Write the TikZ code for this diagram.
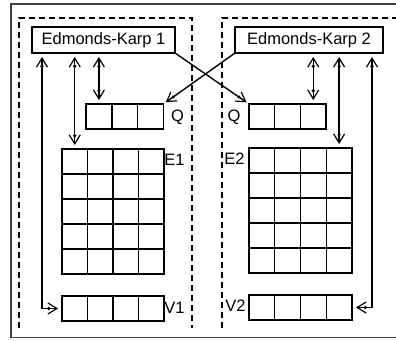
\documentclass[tikz,border=0pt]{standalone}
\usepackage{fontspec}
\setmainfont{Liberation Sans}
\usetikzlibrary{arrows.meta}
\begin{document}
\begin{tikzpicture}[x=1pt,y=-1pt, line width=1.4pt,
  cell/.style={draw, minimum width=25.5pt, minimum height=25pt, inner sep=0pt, outer sep=0pt},
  ekbox/.style={draw, minimum height=26pt, inner sep=0pt, outer sep=0pt, font=\fontsize{16.5}{18}\selectfont},
  lbl/.style={inner sep=0pt, font=\fontsize{16.5}{18}\selectfont},
  barb/.tip={Circle[length=3pt,sep=-3pt] Straight Barb[length=9pt,width=11pt,line width=1.2pt]},
  link/.style={{barb}-{barb}, shorten <=4pt, shorten >=4pt},
  oneway/.style={-{barb}, shorten >=3pt},
  frame/.style={line width=1.6pt, draw=black!75},
  zone/.style={dash pattern=on 6pt off 4pt}
]
\useasboundingbox (0,0) rectangle (396,340);
\begin{scope}
\clip (0,0) rectangle (396,340);
\draw[frame] (11,4) rectangle (430,337.5);
\draw[zone] (19,328) -- (19,18) -- (192,18) -- (192,328);
\draw[zone] (222,328) -- (222,18) -- (430,18);
\end{scope}
\node[ekbox, minimum width=143pt, anchor=north west] (ek1) at (32,27) {Edmonds-Karp 1};
\node[ekbox, minimum width=148pt, anchor=north west] (ek2) at (235,27) {Edmonds-Karp 2};
\foreach \i in {1,2,3} {
  \node[cell, minimum width=25.8pt, anchor=north west] (qa\i) at ({86+(\i-1)*25.8},104) {};
  \node[cell, minimum width=25.7pt, anchor=north west] (qb\i) at ({249+(\i-1)*25.7},104) {};
}
\foreach \c in {1,2,3,4} {
  \node[cell, anchor=north west] (va\c) at ({62+(\c-1)*25.5},296) {};
  \node[cell, minimum width=25.75pt, anchor=north west] (vb\c) at ({249+(\c-1)*25.75},295) {};
  \foreach \r in {1,2,3,4,5} {
    \node[cell, anchor=north west] (ea-\r-\c) at ({62+(\c-1)*25.5},{149+(\r-1)*25}) {};
    \node[cell, minimum width=25.75pt, anchor=north west] (eb-\r-\c) at ({249+(\c-1)*25.75},{148+(\r-1)*25}) {};
  }
}
\node[lbl] (lqa) at (177.5,117) {Q};
\node[lbl] (lea) at (174.5,160) {E1};
\node[lbl] (lva) at (174.5,308) {V1};
\node[lbl] (lqb) at (234,117) {Q};
\node[lbl] (leb) at (234.5,159) {E2};
\node[lbl] (lvb) at (235.5,306) {V2};
\coordinate (ra) at (42,0);
\coordinate (rb) at (372,0);
\draw[link] (ek1.south -| ra) |- (va1.west);
\draw[link] (ek1.south -| ea-1-1.north) -- (ea-1-1.north);
\draw[link] (ek1.south -| qa1.north) -- (qa1.north);
\draw[link] (ek2.south -| qb3.north) -- (qb3.north);
\draw[link] (ek2.south -| eb-1-4.north) -- (eb-1-4.north);
\draw[link] (ek2.south -| rb) |- (vb4.east);
\draw[oneway] (ek1.south east) -- (qb1.north west);
\draw[oneway] (ek2.south west) -- (qa3.north east);
\end{tikzpicture}
\end{document}
